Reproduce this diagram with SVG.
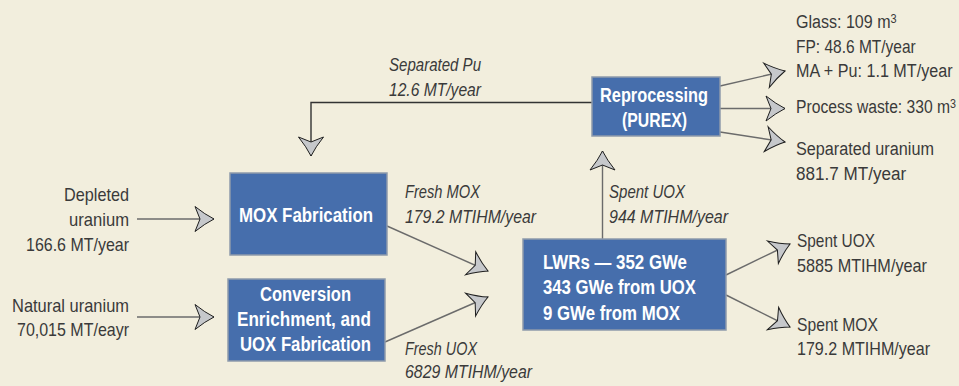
<svg xmlns="http://www.w3.org/2000/svg" width="959" height="386" viewBox="0 0 959 386">
  <style>
    .bg { fill: #f2eedd; }
    .box { fill: #466eac; stroke: #8e9aab; stroke-width: 1.5; }
    .boxt { font-family: "Liberation Sans", Arial, sans-serif; font-weight: bold; font-size: 20px; fill: #ffffff; }
    .lbl { font-family: "Liberation Sans", Arial, sans-serif; font-size: 19px; fill: #3a3a3a; }
    .it { font-style: italic; }
    .sup { font-size: 13px; }
    .flow { fill: none; stroke: #6b6b6b; stroke-width: 1.4; }
    .flow.dark { stroke: #333333; }
    .head { fill: #c6c8cb; stroke: #1e1e1e; stroke-width: 1; stroke-linejoin: miter; }
  </style>
  <defs>
    <!-- dart-shaped arrowhead, tip at the origin -->
    <marker id="dart" markerUnits="userSpaceOnUse" markerWidth="30" markerHeight="30" refX="0" refY="0" orient="auto" overflow="visible">
      <path class="head" d="M0,0 Q-9,-4.5 -19,-12.5 L-14,0 L-19,12.5 Q-9,4.5 0,0 Z"/>
    </marker>
  </defs>

  <rect class="bg" x="0" y="0" width="959" height="386"/>

  <!-- connectors -->
  <g id="connectors">
    <line class="flow" x1="137" y1="219" x2="214" y2="219" marker-end="url(#dart)"/>
    <line class="flow" x1="137" y1="317" x2="214" y2="317" marker-end="url(#dart)"/>
    <line class="flow" x1="387" y1="226" x2="488" y2="271" marker-end="url(#dart)"/>
    <line class="flow" x1="385" y1="342" x2="488" y2="297" marker-end="url(#dart)"/>
    <line class="flow" x1="602.5" y1="239" x2="602.5" y2="151" marker-end="url(#dart)"/>
    <polyline class="flow dark" points="592,102.5 311,102.5 311,156" marker-end="url(#dart)"/>
    <line class="flow" x1="720" y1="86" x2="785" y2="71" marker-end="url(#dart)"/>
    <line class="flow" x1="720" y1="108.5" x2="785" y2="108.5" marker-end="url(#dart)"/>
    <line class="flow" x1="720" y1="132" x2="785" y2="142" marker-end="url(#dart)"/>
    <line class="flow" x1="726" y1="275" x2="790" y2="244" marker-end="url(#dart)"/>
    <line class="flow" x1="726" y1="295" x2="790" y2="327" marker-end="url(#dart)"/>
  </g>

  <!-- process nodes -->
  <g id="reprocessing">
    <rect class="box" x="592" y="77" width="128" height="59"/>
    <text class="boxt" x="600" y="102" textLength="108" lengthAdjust="spacingAndGlyphs">Reprocessing</text>
    <text class="boxt" x="622" y="127" textLength="65" lengthAdjust="spacingAndGlyphs">(PUREX)</text>
  </g>
  <g id="mox-fabrication">
    <rect class="box" x="230" y="173" width="157" height="82"/>
    <text class="boxt" x="239" y="222" textLength="134" lengthAdjust="spacingAndGlyphs">MOX Fabrication</text>
  </g>
  <g id="uox-fabrication">
    <rect class="box" x="228" y="279" width="157" height="82"/>
    <text class="boxt" x="260" y="301" textLength="91" lengthAdjust="spacingAndGlyphs">Conversion</text>
    <text class="boxt" x="237" y="326" textLength="134" lengthAdjust="spacingAndGlyphs">Enrichment, and</text>
    <text class="boxt" x="240" y="351" textLength="131" lengthAdjust="spacingAndGlyphs">UOX Fabrication</text>
  </g>
  <g id="lwrs">
    <rect class="box" x="523" y="239" width="203" height="91"/>
    <text class="boxt" x="543" y="269" textLength="144" lengthAdjust="spacingAndGlyphs">LWRs — 352 GWe</text>
    <text class="boxt" x="543" y="294" textLength="153" lengthAdjust="spacingAndGlyphs">343 GWe from UOX</text>
    <text class="boxt" x="543" y="320" textLength="137" lengthAdjust="spacingAndGlyphs">9 GWe from MOX</text>
  </g>

  <!-- feed materials -->
  <g id="depleted-uranium">
    <text class="lbl" x="64" y="201" textLength="65" lengthAdjust="spacingAndGlyphs">Depleted</text>
    <text class="lbl" x="69" y="226" textLength="60" lengthAdjust="spacingAndGlyphs">uranium</text>
    <text class="lbl" x="26" y="251" textLength="103" lengthAdjust="spacingAndGlyphs">166.6 MT/year</text>
  </g>
  <g id="natural-uranium">
    <text class="lbl" x="12" y="312" textLength="117" lengthAdjust="spacingAndGlyphs">Natural uranium</text>
    <text class="lbl" x="17" y="336" textLength="112" lengthAdjust="spacingAndGlyphs">70,015 MT/eayr</text>
  </g>

  <!-- flow labels -->
  <g id="flow-labels">
    <text class="lbl it" x="389" y="71" textLength="92" lengthAdjust="spacingAndGlyphs">Separated Pu</text>
    <text class="lbl it" x="389" y="96" textLength="92" lengthAdjust="spacingAndGlyphs">12.6 MT/year</text>
    <text class="lbl it" x="405" y="198" textLength="75" lengthAdjust="spacingAndGlyphs">Fresh MOX</text>
    <text class="lbl it" x="405" y="223" textLength="131" lengthAdjust="spacingAndGlyphs">179.2 MTIHM/year</text>
    <text class="lbl it" x="405" y="355" textLength="72" lengthAdjust="spacingAndGlyphs">Fresh UOX</text>
    <text class="lbl it" x="405" y="378" textLength="127" lengthAdjust="spacingAndGlyphs">6829 MTIHM/year</text>
    <text class="lbl it" x="609" y="198" textLength="76" lengthAdjust="spacingAndGlyphs">Spent UOX</text>
    <text class="lbl it" x="609" y="223" textLength="119" lengthAdjust="spacingAndGlyphs">944 MTIHM/year</text>
  </g>

  <!-- reprocessing outputs, horizontally condensed -->
  <g id="reprocessing-outputs">
    <text class="lbl" transform="translate(796,28) scale(0.845,1)">Glass: 109 m<tspan class="sup" dy="-5">3</tspan></text>
    <text class="lbl" transform="translate(796,53) scale(0.817,1)">FP: 48.6 MT/year</text>
    <text class="lbl" transform="translate(796,77) scale(0.85,1)">MA + Pu: 1.1 MT/year</text>
    <text class="lbl" transform="translate(796,113) scale(0.825,1)">Process waste: 330 m<tspan class="sup" dy="-5">3</tspan></text>
    <text class="lbl" transform="translate(796,155) scale(0.854,1)">Separated uranium</text>
    <text class="lbl" transform="translate(796,180) scale(0.9,1)">881.7 MT/year</text>
  </g>

  <!-- reactor discharges -->
  <g id="reactor-outputs">
    <text class="lbl" x="797" y="247" textLength="78" lengthAdjust="spacingAndGlyphs">Spent UOX</text>
    <text class="lbl" x="797" y="272" textLength="130" lengthAdjust="spacingAndGlyphs">5885 MTIHM/year</text>
    <text class="lbl" x="797" y="331" textLength="81" lengthAdjust="spacingAndGlyphs">Spent MOX</text>
    <text class="lbl" x="797" y="355" textLength="133" lengthAdjust="spacingAndGlyphs">179.2 MTIHM/year</text>
  </g>
</svg>
